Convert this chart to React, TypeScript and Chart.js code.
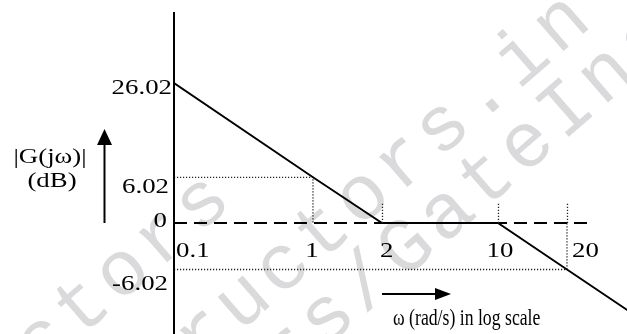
import React, { useEffect, useRef } from 'react';
import { Chart, LinearScale, registerables } from 'chart.js';

// ---------------- data ----------------
const OMEGA = [0.1, 1, 2, 10, 20, 40];
const GAIN_DB = [26.02, 6.02, 0, 0, -6.02, -12.04];

const X_TICKS = [0.1, 1, 2, 10, 20];
const X_TICK_LABELS = ['0.1', '1', '2', '10', '20'];
const Y_TICKS = [-6.02, 0, 6.02, 26.02];
const Y_TICK_LABELS = ['-6.02', '0', '6.02', '26.02'];

const REF_UPPER_X = [0.1, 1, 1];
const REF_UPPER_Y = [6.02, 6.02, 0];
const REF_LOWER_X = [0.1, 20, 20];
const REF_LOWER_Y = [-6.02, -6.02, 0];
const ZERO_LINE_X = [0.1, 25.5];
const ZERO_LINE_Y = [0, 0];
const MARKED_BREAKS = [2, 10, 20];

const Y_TITLE = ['|G(jω)|', '(dB)'];
const X_TITLE = 'ω (rad/s) in log scale';
const WATERMARK = ['GateInstructors', 'www.gateinstructors.in', 'gateinstructors/GateInstructors'];

// ------------- schematic axis layout (value -> fraction of axis) -------------
const X_ANCHOR_VALUES = [0.1, 1, 2, 10, 20];
const X_ANCHOR_FRACS = [0, 0.3068, 0.4592, 0.7152, 0.8675];
const Y_ANCHOR_VALUES = [-6.02, 0, 6.02, 26.02];
const Y_ANCHOR_FRACS = [0.2003, 0.3447, 0.4866, 0.7795];

// ---------------- styles ----------------
const SERIF = '"Liberation Serif", "Times New Roman", serif';
const FONT_SIZE = 22;
const STRETCH = 1.22;
const Y_LABEL_DX = [-4, -5, -3, 0];
const Y_LABEL_DY = [20.5, 4, 16, 11];
const X_LABEL_ALIGN: CanvasTextAlign[] = ['left', 'center', 'left', 'center', 'left'];
const X_LABEL_DX = [2, -1, -2, 2, 5];
const X_LABEL_DY = 34;
const WM_FONT = '78px "Liberation Mono", monospace';
const WM_SPACING = '6px';
const WM_COLOR = '#dadadc';
const WM_ANGLE = -41 * Math.PI / 180;
const DOT_COLOR = '#222';

function interp(v: number, vals: number[], fracs: number[], log: boolean) {
  const t = (a: number) => (log ? Math.log10(a) : a);
  const tv = t(v);
  const n = vals.length;
  let i = 0;
  if (tv <= t(vals[0])) i = 0;
  else if (tv >= t(vals[n - 1])) i = n - 2;
  else {
    while (i < n - 2 && tv > t(vals[i + 1])) i++;
  }
  const a = t(vals[i]);
  const b = t(vals[i + 1]);
  return fracs[i] + ((tv - a) / (b - a)) * (fracs[i + 1] - fracs[i]);
}

class SchematicScale extends LinearScale {
  static id = 'schematic';
  static defaults = { ...(LinearScale as any).defaults };
  getPixelForValue(value: any) {
    if (value === null || value === undefined || isNaN(value)) return NaN;
    const o: any = this.options;
    return this.getPixelForDecimal(interp(+value, o.anchorValues, o.anchorFracs, !!o.logInterp));
  }
  getValueForPixel(pixel: number) {
    const o: any = this.options;
    const f = this.getDecimalForPixel(pixel);
    const vals: number[] = o.anchorValues;
    const fr: number[] = o.anchorFracs;
    const t = (a: number) => (o.logInterp ? Math.log10(a) : a);
    let i = 0;
    while (i < fr.length - 2 && f > fr[i + 1]) i++;
    const tv = t(vals[i]) + ((f - fr[i]) / (fr[i + 1] - fr[i])) * (t(vals[i + 1]) - t(vals[i]));
    return o.logInterp ? Math.pow(10, tv) : tv;
  }
}

Chart.register(...registerables, SchematicScale as any);

function pts(xs: number[], ys: number[]) {
  return xs.map((x, i) => ({ x, y: ys[i] }));
}

function stretchedText(ctx: CanvasRenderingContext2D, text: string, x: number, y: number, align: CanvasTextAlign, size = FONT_SIZE, sx = STRETCH) {
  ctx.save();
  ctx.font = `${size}px ${SERIF}`;
  ctx.fillStyle = '#000';
  ctx.textBaseline = 'alphabetic';
  ctx.textAlign = align;
  ctx.translate(x, y);
  ctx.scale(sx, 1);
  ctx.fillText(text, 0, 0);
  ctx.restore();
}

function arrow(ctx: CanvasRenderingContext2D, x1: number, y1: number, x2: number, y2: number, headLen: number, halfW: number) {
  const ang = Math.atan2(y2 - y1, x2 - x1);
  const bx = x2 - Math.cos(ang) * headLen;
  const by = y2 - Math.sin(ang) * headLen;
  ctx.save();
  ctx.strokeStyle = '#000';
  ctx.fillStyle = '#000';
  ctx.lineWidth = 2;
  ctx.beginPath();
  ctx.moveTo(x1, y1);
  ctx.lineTo(bx, by);
  ctx.stroke();
  ctx.beginPath();
  ctx.moveTo(x2, y2);
  ctx.lineTo(bx - Math.sin(ang) * halfW, by + Math.cos(ang) * halfW);
  ctx.lineTo(bx + Math.sin(ang) * halfW, by - Math.cos(ang) * halfW);
  ctx.closePath();
  ctx.fill();
  ctx.restore();
}

function watermarkLine(ctx: CanvasRenderingContext2D, text: string, idx: number, ax: number, ay: number) {
  ctx.save();
  ctx.translate(ax, ay);
  ctx.rotate(WM_ANGLE);
  ctx.font = WM_FONT;
  (ctx as any).letterSpacing = WM_SPACING;
  ctx.fillStyle = WM_COLOR;
  ctx.textBaseline = 'middle';
  ctx.textAlign = 'left';
  const pre = ctx.measureText(text.slice(0, idx)).width;
  const cw = ctx.measureText(text[idx]).width;
  ctx.fillText(text, -pre - cw / 2, 0);
  ctx.restore();
}

const decorPlugin = {
  id: 'decor',
  beforeDatasetsDraw(chart: any) {
    const ctx: CanvasRenderingContext2D = chart.ctx;
    ctx.save();
    watermarkLine(ctx, WATERMARK[0], WATERMARK[0].length - 1, 205, 202);
    watermarkLine(ctx, WATERMARK[1], WATERMARK[1].indexOf('.in'), 485, 92);
    watermarkLine(ctx, WATERMARK[2], WATERMARK[2].indexOf('/'), 370, 282);
    ctx.restore();
  },
  afterDatasetsDraw(chart: any) {
    const ctx: CanvasRenderingContext2D = chart.ctx;
    const xs = chart.scales.x;
    const ys = chart.scales.y;
    const area = chart.chartArea;
    const y0 = ys.getPixelForValue(0);

    // vertical axis
    ctx.save();
    ctx.strokeStyle = '#000';
    ctx.lineWidth = 2;
    ctx.beginPath();
    ctx.moveTo(area.left, area.top);
    ctx.lineTo(area.left, chart.height);
    ctx.stroke();

    // dotted break markers above the 0 dB line
    ctx.strokeStyle = DOT_COLOR;
    ctx.lineWidth = 1.3;
    ctx.setLineDash([1.2, 1.8]);
    MARKED_BREAKS.forEach((v) => {
      const px = Math.round(xs.getPixelForValue(v)) + 0.5;
      ctx.beginPath();
      ctx.moveTo(px, y0);
      ctx.lineTo(px, y0 - 21);
      ctx.stroke();
    });
    ctx.setLineDash([]);
    ctx.restore();

    // tick labels
    Y_TICKS.forEach((v, i) => {
      stretchedText(ctx, Y_TICK_LABELS[i], area.left - 2 + Y_LABEL_DX[i], ys.getPixelForValue(v) + Y_LABEL_DY[i], 'right');
    });
    X_TICKS.forEach((v, i) => {
      stretchedText(ctx, X_TICK_LABELS[i], xs.getPixelForValue(v) + X_LABEL_DX[i], y0 + X_LABEL_DY, X_LABEL_ALIGN[i]);
    });

    // axis titles with arrows
    stretchedText(ctx, Y_TITLE[0], 50, 163, 'center');
    stretchedText(ctx, Y_TITLE[1], 52, 187, 'center');
    arrow(ctx, 104.5, y0, 104.5, 129, 16, 7.5);

    const ax1 = xs.getPixelForValue(2);
    arrow(ctx, ax1, 294, ax1 + 69, 294, 16, 6);
    stretchedText(ctx, X_TITLE, 393, 325, 'left', 23, 0.77);
  },
};

export default function App() {
  const ref = useRef<HTMLCanvasElement | null>(null);
  useEffect(() => {
    if (!ref.current) return;
    const chart = new Chart(ref.current, {
      type: 'line',
      data: {
        datasets: [
          {
            data: pts(OMEGA, GAIN_DB),
            borderColor: '#000',
            borderWidth: 1.9,
            pointRadius: 0,
            tension: 0,
          },
          {
            data: pts(ZERO_LINE_X, ZERO_LINE_Y),
            borderColor: '#000',
            borderWidth: 1.8,
            borderDash: [13, 7],
            pointRadius: 0,
          },
          {
            data: pts(REF_UPPER_X, REF_UPPER_Y),
            borderColor: DOT_COLOR,
            borderWidth: 1.3,
            borderDash: [1.2, 1.8],
            pointRadius: 0,
          },
          {
            data: pts(REF_LOWER_X, REF_LOWER_Y),
            borderColor: DOT_COLOR,
            borderWidth: 1.3,
            borderDash: [1.2, 1.8],
            pointRadius: 0,
          },
        ],
      },
      options: {
        animation: false,
        responsive: false,
        events: [],
        layout: { padding: { left: 174, top: 12, right: 0, bottom: 0 } },
        plugins: { legend: { display: false }, tooltip: { enabled: false } },
        scales: {
          x: {
            type: 'schematic' as any,
            display: false,
            min: 0.1,
            max: 40,
            anchorValues: X_ANCHOR_VALUES,
            anchorFracs: X_ANCHOR_FRACS,
            logInterp: true,
            afterBuildTicks: (s: any) => {
              s.ticks = X_TICKS.map((value) => ({ value }));
            },
          } as any,
          y: {
            type: 'schematic' as any,
            display: false,
            min: -12.04,
            max: 30,
            anchorValues: Y_ANCHOR_VALUES,
            anchorFracs: Y_ANCHOR_FRACS,
            logInterp: false,
            afterBuildTicks: (s: any) => {
              s.ticks = Y_TICKS.map((value) => ({ value }));
            },
          } as any,
        },
      },
      plugins: [decorPlugin],
    });
    return () => chart.destroy();
  }, []);

  return (
    <div style={{ position: 'fixed', left: 0, top: 0, width: 627, height: 334, background: '#fff' }}>
      <canvas ref={ref} width={627} height={334} style={{ display: 'block' }} />
    </div>
  );
}
